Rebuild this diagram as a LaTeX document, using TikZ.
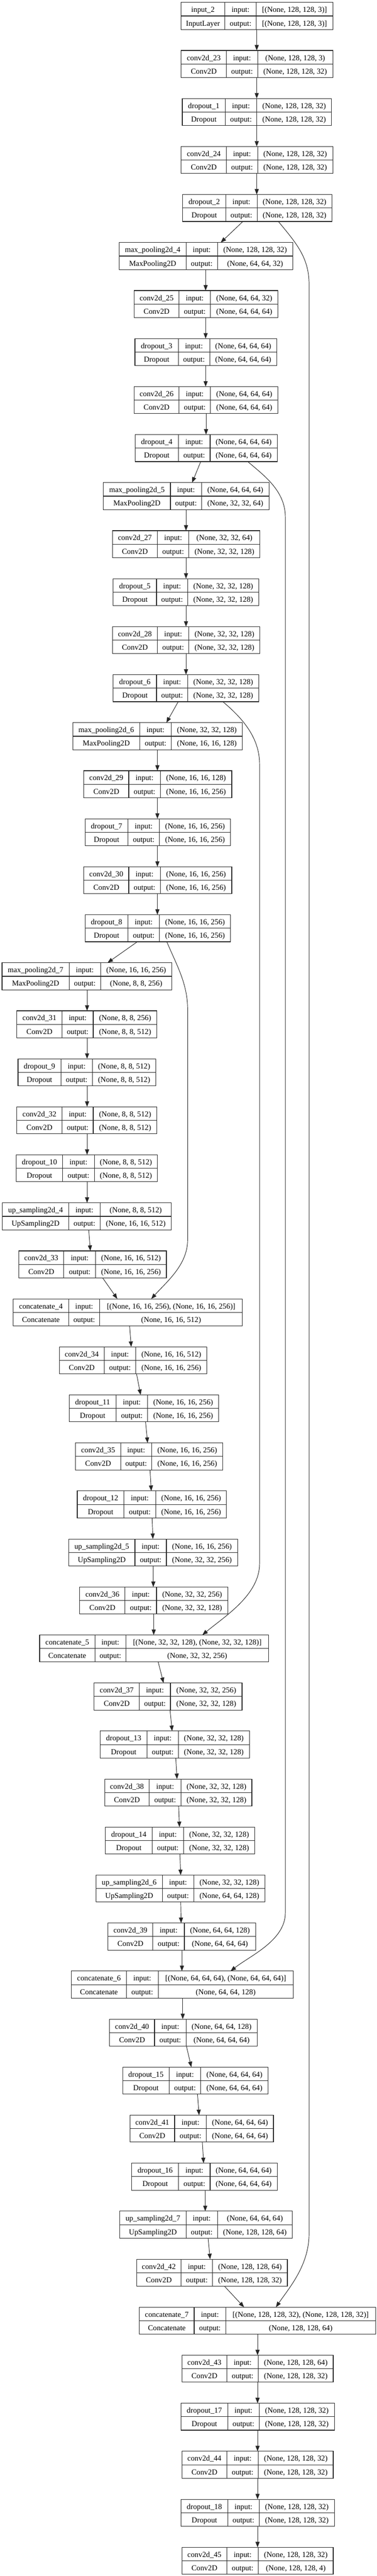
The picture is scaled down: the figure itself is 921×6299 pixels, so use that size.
\documentclass[tikz,border=0pt]{standalone}
\usepackage{fontspec}
\setmainfont{Liberation Serif}
\usetikzlibrary{arrows.meta,calc}
\tikzset{
  box/.style={draw=black!85, line width=1.1pt, inner sep=0pt, outer sep=0pt, rectangle, minimum height=49.5pt},
  div/.style={draw=black!85, line width=1.1pt},
  lbl/.style={anchor=base, inner sep=0pt, font=\fontsize{14}{16}\selectfont},
  arr/.style={draw=black!85, line width=0.9pt, -{Triangle[length=10pt,width=7.5pt]}},
}
\newcommand\lay[6]{%
  \pgfmathsetmacro\yt{-(6+#2*117.41)}%
  \pgfmathsetmacro\ym{\yt-33}%
  \pgfmathsetmacro\yb{\yt-66}%
  \pgfmathsetmacro\ya{\yt-24}%
  \pgfmathsetmacro\yc{\yt-57}%
  \pgfmathsetmacro\xa{(#3+#4)/2}%
  \pgfmathsetmacro\xb{(#4+#5)/2}%
  \pgfmathsetmacro\xc{(#5+#6)/2}%
  \pgfmathsetmacro\bw{(#6-#3)*0.75}%
  \node[box, minimum width=\bw pt, anchor=north west] (#1) at (#3,\yt) {};
  \draw[div] (#4,\yt) -- (#4,\yb) (#5,\yt) -- (#5,\yb) (#3,\ym) -- (#6,\ym);
}
\newcommand\txt[5]{%
  \node[lbl] (#1-n) at (\xa,\ya) {#2};
  \node[lbl] (#1-t) at (\xa,\yc) {#3};
  \node[lbl] (#1-i) at (\xb,\ya) {input:};
  \node[lbl] (#1-o) at (\xb,\yc) {output:};
  \node[lbl] (#1-s) at (\xc,\ya) {#4};
  \node[lbl] (#1-u) at (\xc,\yc) {#5};
}
\newcommand\edge[4]{\draw[arr] (#1.south -| #2,0) -- (#3.north -| #4,0);}
\begin{document}
\begin{tikzpicture}[x=0.75pt,y=0.75pt]
\useasboundingbox[fill=white] (0,0) rectangle (921,-6299);

\lay{in2}{0}{443}{550}{627}{814}\txt{in2}{input\_2}{InputLayer}{[(None, 128, 128, 3)]}{[(None, 128, 128, 3)]}
\lay{c23}{1}{443}{554}{630}{814}\txt{c23}{conv2d\_23}{Conv2D}{(None, 128, 128, 3)}{(None, 128, 128, 32)}
\lay{d1}{2}{446}{551}{628}{811}\txt{d1}{dropout\_1}{Dropout}{(None, 128, 128, 32)}{(None, 128, 128, 32)}
\lay{c24}{3}{443}{554}{630}{814}\txt{c24}{conv2d\_24}{Conv2D}{(None, 128, 128, 32)}{(None, 128, 128, 32)}
\lay{d2}{4}{447}{552}{629}{812}\txt{d2}{dropout\_2}{Dropout}{(None, 128, 128, 32)}{(None, 128, 128, 32)}
\lay{mp4}{5}{292}{455}{532}{716}\txt{mp4}{max\_pooling2d\_4}{MaxPooling2D}{(None, 128, 128, 32)}{(None, 64, 64, 32)}
\lay{c25}{6}{328}{438}{515}{680}\txt{c25}{conv2d\_25}{Conv2D}{(None, 64, 64, 32)}{(None, 64, 64, 64)}
\lay{d3}{7}{330}{436}{513}{677}\txt{d3}{dropout\_3}{Dropout}{(None, 64, 64, 64)}{(None, 64, 64, 64)}
\lay{c26}{8}{328}{438}{515}{680}\txt{c26}{conv2d\_26}{Conv2D}{(None, 64, 64, 64)}{(None, 64, 64, 64)}
\lay{d4}{9}{331}{436}{514}{678}\txt{d4}{dropout\_4}{Dropout}{(None, 64, 64, 64)}{(None, 64, 64, 64)}
\lay{mp5}{10}{253}{417}{493}{658}\txt{mp5}{max\_pooling2d\_5}{MaxPooling2D}{(None, 64, 64, 64)}{(None, 32, 32, 64)}
\lay{c27}{11}{275}{385}{462}{636}\txt{c27}{conv2d\_27}{Conv2D}{(None, 32, 32, 64)}{(None, 32, 32, 128)}
\lay{d5}{12}{277}{383}{459}{633}\txt{d5}{dropout\_5}{Dropout}{(None, 32, 32, 128)}{(None, 32, 32, 128)}
\lay{c28}{13}{275}{385}{462}{636}\txt{c28}{conv2d\_28}{Conv2D}{(None, 32, 32, 128)}{(None, 32, 32, 128)}
\lay{d6}{14}{277}{383}{459}{633}\txt{d6}{dropout\_6}{Dropout}{(None, 32, 32, 128)}{(None, 32, 32, 128)}
\lay{mp6}{15}{178}{342}{419}{593}\txt{mp6}{max\_pooling2d\_6}{MaxPooling2D}{(None, 32, 32, 128)}{(None, 16, 16, 128)}
\lay{c29}{16}{205}{315}{392}{567}\txt{c29}{conv2d\_29}{Conv2D}{(None, 16, 16, 128)}{(None, 16, 16, 256)}
\lay{d7}{17}{208}{313}{390}{564}\txt{d7}{dropout\_7}{Dropout}{(None, 16, 16, 256)}{(None, 16, 16, 256)}
\lay{c30}{18}{205}{315}{392}{567}\txt{c30}{conv2d\_30}{Conv2D}{(None, 16, 16, 256)}{(None, 16, 16, 256)}
\lay{d8}{19}{208}{313}{390}{564}\txt{d8}{dropout\_8}{Dropout}{(None, 16, 16, 256)}{(None, 16, 16, 256)}
\lay{mp7}{20}{5}{169}{246}{420}\txt{mp7}{max\_pooling2d\_7}{MaxPooling2D}{(None, 16, 16, 256)}{(None, 8, 8, 256)}
\lay{c31}{21}{41}{152}{228}{384}\txt{c31}{conv2d\_31}{Conv2D}{(None, 8, 8, 256)}{(None, 8, 8, 512)}
\lay{d9}{22}{44}{149}{226}{381}\txt{d9}{dropout\_9}{Dropout}{(None, 8, 8, 512)}{(None, 8, 8, 512)}
\lay{c32}{23}{41}{152}{228}{384}\txt{c32}{conv2d\_32}{Conv2D}{(None, 8, 8, 512)}{(None, 8, 8, 512)}
\lay{d10}{24}{40}{153}{231}{385}\txt{d10}{dropout\_10}{Dropout}{(None, 8, 8, 512)}{(None, 8, 8, 512)}
\lay{up4}{25}{6}{168}{245}{419}\txt{up4}{up\_sampling2d\_4}{UpSampling2D}{(None, 8, 8, 512)}{(None, 16, 16, 512)}
\lay{c33}{26}{46}{156}{234}{407}\txt{c33}{conv2d\_33}{Conv2D}{(None, 16, 16, 512)}{(None, 16, 16, 256)}
\lay{cat4}{27}{32}{168}{244}{593}\txt{cat4}{concatenate\_4}{Concatenate}{[(None, 16, 16, 256), (None, 16, 16, 256)]}{(None, 16, 16, 512)}
\lay{c34}{28}{145}{255}{332}{506}\txt{c34}{conv2d\_34}{Conv2D}{(None, 16, 16, 512)}{(None, 16, 16, 256)}
\lay{d11}{29}{169}{284}{361}{535}\txt{d11}{dropout\_11}{Dropout}{(None, 16, 16, 256)}{(None, 16, 16, 256)}
\lay{c35}{30}{185}{295}{371}{545}\txt{c35}{conv2d\_35}{Conv2D}{(None, 16, 16, 256)}{(None, 16, 16, 256)}
\lay{d12}{31}{189}{303}{381}{554}\txt{d12}{dropout\_12}{Dropout}{(None, 16, 16, 256)}{(None, 16, 16, 256)}
\lay{up5}{32}{168}{330}{407}{581}\txt{up5}{up\_sampling2d\_5}{UpSampling2D}{(None, 16, 16, 256)}{(None, 32, 32, 256)}
\lay{c36}{33}{195}{306}{383}{557}\txt{c36}{conv2d\_36}{Conv2D}{(None, 32, 32, 256)}{(None, 32, 32, 128)}
\lay{cat5}{34}{97}{232}{308}{657}\txt{cat5}{concatenate\_5}{Concatenate}{[(None, 32, 32, 128), (None, 32, 32, 128)]}{(None, 32, 32, 256)}
\lay{c37}{35}{230}{341}{417}{592}\txt{c37}{conv2d\_37}{Conv2D}{(None, 32, 32, 256)}{(None, 32, 32, 128)}
\lay{d13}{36}{245}{360}{436}{610}\txt{d13}{dropout\_13}{Dropout}{(None, 32, 32, 128)}{(None, 32, 32, 128)}
\lay{c38}{37}{256}{365}{443}{616}\txt{c38}{conv2d\_38}{Conv2D}{(None, 32, 32, 128)}{(None, 32, 32, 128)}
\lay{d14}{38}{258}{372}{449}{623}\txt{d14}{dropout\_14}{Dropout}{(None, 32, 32, 128)}{(None, 32, 32, 128)}
\lay{up6}{39}{235}{397}{474}{648}\txt{up6}{up\_sampling2d\_6}{UpSampling2D}{(None, 32, 32, 128)}{(None, 64, 64, 128)}
\lay{c39}{40}{264}{374}{451}{625}\txt{c39}{conv2d\_39}{Conv2D}{(None, 64, 64, 128)}{(None, 64, 64, 64)}
\lay{cat6}{41}{175}{309}{387}{717}\txt{cat6}{concatenate\_6}{Concatenate}{[(None, 64, 64, 64), (None, 64, 64, 64)]}{(None, 64, 64, 128)}
\lay{c40}{42}{268}{378}{455}{629}\txt{c40}{conv2d\_40}{Conv2D}{(None, 64, 64, 128)}{(None, 64, 64, 64)}
\lay{d15}{43}{300}{414}{491}{656}\txt{d15}{dropout\_15}{Dropout}{(None, 64, 64, 64)}{(None, 64, 64, 64)}
\lay{c41}{44}{318}{427}{505}{669}\txt{c41}{conv2d\_41}{Conv2D}{(None, 64, 64, 64)}{(None, 64, 64, 64)}
\lay{d16}{45}{322}{437}{514}{678}\txt{d16}{dropout\_16}{Dropout}{(None, 64, 64, 64)}{(None, 64, 64, 64)}
\lay{up7}{46}{293}{455}{532}{715}\txt{up7}{up\_sampling2d\_7}{UpSampling2D}{(None, 64, 64, 64)}{(None, 128, 128, 64)}
\lay{c42}{47}{334}{443}{520}{703}\txt{c42}{conv2d\_42}{Conv2D}{(None, 128, 128, 64)}{(None, 128, 128, 32)}
\lay{cat7}{48}{341}{475}{552}{919}\txt{cat7}{concatenate\_7}{Concatenate}{[(None, 128, 128, 32), (None, 128, 128, 32)]}{(None, 128, 128, 64)}
\lay{c43}{49}{445}{555}{632}{815}\txt{c43}{conv2d\_43}{Conv2D}{(None, 128, 128, 64)}{(None, 128, 128, 32)}
\lay{d17}{50}{443}{557}{634}{818}\txt{d17}{dropout\_17}{Dropout}{(None, 128, 128, 32)}{(None, 128, 128, 32)}
\lay{c44}{51}{445}{555}{632}{815}\txt{c44}{conv2d\_44}{Conv2D}{(None, 128, 128, 32)}{(None, 128, 128, 32)}
\lay{d18}{52}{443}{557}{634}{818}\txt{d18}{dropout\_18}{Dropout}{(None, 128, 128, 32)}{(None, 128, 128, 32)}
\lay{c45}{53}{445}{555}{632}{815}\txt{c45}{conv2d\_45}{Conv2D}{(None, 128, 128, 32)}{(None, 128, 128, 4)}

% main chain
\edge{in2}{628}{c23}{628}
\edge{c23}{628}{d1}{628}
\edge{d1}{628}{c24}{628}
\edge{c24}{628}{d2}{628}
\edge{d2}{594}{mp4}{540}
\edge{mp4}{503}{c25}{503}
\edge{c25}{503}{d3}{503}
\edge{d3}{503}{c26}{503}
\edge{c26}{504}{d4}{504}
\edge{d4}{491}{mp5}{470}
\edge{mp5}{455}{c27}{455}
\edge{c27}{455}{d5}{455}
\edge{d5}{455}{c28}{455}
\edge{c28}{455}{d6}{455}
\edge{d6}{436}{mp6}{407}
\edge{mp6}{385}{c29}{385}
\edge{c29}{385}{d7}{385}
\edge{d7}{385}{c30}{385}
\edge{c30}{385}{d8}{385}
\edge{d8}{336}{mp7}{263}
\edge{mp7}{213}{c31}{213}
\edge{c31}{213}{d9}{213}
\edge{d9}{213}{c32}{213}
\edge{c32}{213}{d10}{213}
\edge{d10}{213}{up4}{213}
\edge{up4}{217}{c33}{221}
\edge{c33}{251}{cat4}{287}
\edge{cat4}{317}{c34}{321}
\edge{c34}{334}{d11}{344}
\edge{d11}{356}{c35}{361}
\edge{c35}{367}{d12}{370}
\edge{d12}{372}{up5}{374}
\edge{up5}{375}{c36}{375}
\edge{c36}{376}{cat5}{376}
\edge{cat5}{387}{c37}{400}
\edge{c37}{416}{d13}{421}
\edge{d13}{430}{c38}{433}
\edge{c38}{437}{d14}{439}
\edge{d14}{440}{up6}{442}
\edge{up6}{442}{c39}{443}
\edge{c39}{445}{cat6}{445}
\edge{cat6}{447}{c40}{447}
\edge{c40}{456}{d15}{468}
\edge{d15}{483}{c41}{487}
\edge{c41}{495}{d16}{498}
\edge{d16}{502}{up7}{502}
\edge{up7}{509}{c42}{514}
\edge{c42}{549}{cat7}{597}
\edge{cat7}{630}{c43}{630}
\edge{c43}{630}{d17}{630}
\edge{d17}{630}{c44}{630}
\edge{c44}{630}{d18}{630}
\edge{d18}{630}{c45}{630}

% skip connections
\draw[arr] (d2.south -| 681,0) .. controls (722,-592) and (756,-628) .. (756,-695)
  -- (756,-5462) .. controls (756,-5540) and (706,-5596) .. (cat7.north -| 675,0);
\draw[arr] (d4.south -| 606,0) .. controls (646,-1163) and (698,-1200) .. (698,-1265)
  -- (698,-4677) .. controls (698,-4745) and (612,-4782) .. (cat6.north -| 564,0);
\draw[arr] (d6.south -| 545,0) .. controls (588,-1752) and (635,-1800) .. (635,-1869)
  -- (635,-3823) .. controls (635,-3900) and (550,-3952) .. (cat5.north -| 495,0);
\draw[arr] (d8.south -| 408,0) .. controls (432,-2360) and (459,-2405) .. (459,-2469)
  -- (459,-3031) .. controls (459,-3092) and (410,-3132) .. (cat4.north -| 370,0);
\end{tikzpicture}
\end{document}
